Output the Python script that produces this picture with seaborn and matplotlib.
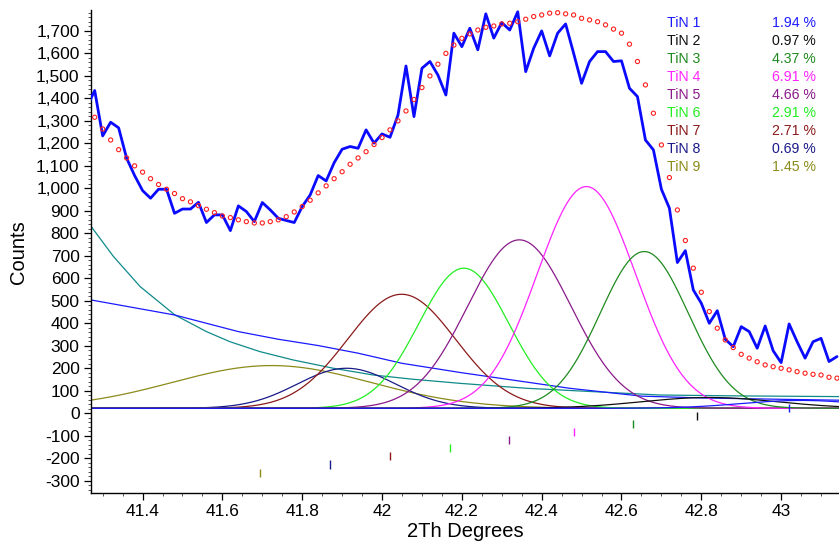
import numpy as np
import pandas as pd
import matplotlib
matplotlib.use("Agg")
import matplotlib.pyplot as plt
from matplotlib.ticker import MultipleLocator, FuncFormatter
import seaborn as sns

# ---- measured pattern: 2-theta grid (0.02 deg steps) ----
theta_start = 41.26
theta_step = 0.02
observed = [
    1360, 1435, 1233, 1294, 1269, 1134, 1057, 990, 956, 996,
    996, 889, 908, 908, 938, 848, 882, 882, 812, 922,
    897, 852, 937, 904, 867, 857, 848, 919, 971, 1057,
    1033, 1114, 1174, 1186, 1178, 1260, 1201, 1242, 1227, 1326,
    1544, 1319, 1534, 1564, 1504, 1415, 1690, 1630, 1712, 1616,
    1776, 1668, 1737, 1704, 1785, 1519, 1623, 1700, 1589, 1690,
    1731, 1601, 1467, 1564, 1608, 1608, 1564, 1567, 1445, 1408,
    1215, 1171, 996, 912, 670, 723, 548, 489, 400, 456,
    329, 296, 385, 363, 289, 388, 278, 225, 397, 318,
    245, 318, 333, 230, 252,
]
calculated = [
    1365, 1316, 1264, 1215, 1172, 1135, 1100, 1072, 1043, 1017,
    996, 977, 954, 940, 923, 907, 892, 877, 870, 860,
    852, 846, 846, 852, 860, 874, 895, 919, 947, 980,
    1011, 1043, 1074, 1107, 1135, 1163, 1195, 1226, 1260, 1300,
    1344, 1395, 1448, 1500, 1552, 1600, 1637, 1667, 1687, 1704,
    1716, 1722, 1731, 1734, 1741, 1752, 1764, 1771, 1779, 1781,
    1776, 1771, 1756, 1749, 1741, 1727, 1708, 1690, 1641, 1564,
    1460, 1334, 1193, 1048, 904, 768, 645, 538, 452, 378,
    326, 292, 262, 245, 229, 215, 207, 200, 193, 185,
    178, 173, 170, 160, 156,
]

# ---- fitted phases ----
phases = ["TiN 1", "TiN 2", "TiN 3", "TiN 4", "TiN 5",
          "TiN 6", "TiN 7", "TiN 8", "TiN 9"]
fractions = ["1.94 %", "0.97 %", "4.37 %", "6.91 %", "4.66 %",
             "2.91 %", "2.71 %", "0.69 %", "1.45 %"]
phase_colors = ["#1a1aff", "#101010", "#1f8a1f", "#ff22ff", "#8a1a8a",
                "#22ee22", "#8b1a1a", "#1a1a8a", "#8b8b1a"]
peak_center = [43.05, 42.82, 42.657, 42.512, 42.344, 42.205, 42.049, 41.911, 41.723]
peak_height = [35, 48, 697, 986, 749, 623, 507, 178, 190]
peak_fwhm = [0.35, 0.40, 0.26, 0.29, 0.305, 0.265, 0.318, 0.29, 0.585]
peak_base = 22

# reflection markers below the pattern
marker_pos = [43.02, 42.79, 42.63, 42.48, 42.317, 42.17, 42.02, 41.87, 41.694]
marker_level = [24, -11, -48, -84, -120, -156, -192, -228, -265]
marker_half = 18

# background contributions
bg_blue_x = [41.27, 41.48, 41.64, 41.74, 41.84, 41.94, 42.05, 42.20, 42.47, 42.65, 42.80, 43.00, 43.145]
bg_blue_y = [504, 437, 363, 329, 301, 267, 222, 180, 111, 76, 68, 62, 58]
bg_teal_x = [41.27, 41.327, 41.394, 41.481, 41.56, 41.619, 41.694, 41.777, 41.878,
             41.978, 42.078, 42.195, 42.362, 42.529, 42.696, 42.90, 43.145]
bg_teal_y = [833, 697, 563, 437, 363, 318, 274, 237, 200,
             170, 151, 133, 111, 96, 81, 77, 74]

# ---- figure ----
sns.set_theme(style="ticks")
plt.rcParams["font.family"] = ["Liberation Sans", "DejaVu Sans"]

W, H = 839, 546
fig = plt.figure(figsize=(W / 100, H / 100), dpi=100)
ax = fig.add_axes([90.7 / W, 1 - 493.3 / H, (W - 90.7) / W, (493.3 - 10) / H])

two_theta = np.round(theta_start + theta_step * np.arange(len(observed)), 2)

# profile curves of each phase
grid = np.linspace(41.27, 43.145, 700)
rows = []
for name, c, h, w in zip(phases, peak_center, peak_height, peak_fwhm):
    prof = peak_base + h * np.exp(-4 * np.log(2) * (grid - c) ** 2 / w ** 2)
    rows.append(pd.DataFrame({"x": grid, "y": prof, "phase": name}))
comp = pd.concat(rows, ignore_index=True)

sns.lineplot(x=bg_teal_x, y=bg_teal_y, color="#108a8a", lw=0.9, ax=ax, zorder=2)
sns.lineplot(x=bg_blue_x, y=bg_blue_y, color="#1a1aff", lw=0.9, ax=ax, zorder=2)
sns.lineplot(data=comp, x="x", y="y", hue="phase", hue_order=phases[::-1],
             palette=dict(zip(phases, phase_colors)), estimator=None,
             lw=0.9, legend=False, ax=ax, zorder=2)

ax.vlines(marker_pos,
          [m - marker_half for m in marker_level],
          [m + marker_half for m in marker_level],
          colors=phase_colors, lw=1.0, zorder=3)

sns.lineplot(x=two_theta, y=observed, color="#0a0aff", lw=2.0, ax=ax, zorder=4)
sns.scatterplot(x=two_theta, y=calculated, marker="o", s=9, color="none",
                edgecolor="#ff2020", linewidth=0.8, ax=ax, zorder=5)

ax.set_xlim(41.27, 43.145)
ax.set_ylim(-356, 1793)
ax.xaxis.set_major_locator(MultipleLocator(0.2))
ax.xaxis.set_minor_locator(MultipleLocator(0.05))
ax.yaxis.set_major_locator(MultipleLocator(100))
ax.yaxis.set_minor_locator(MultipleLocator(20))
ax.xaxis.set_major_formatter(FuncFormatter(lambda v, p: f"{v:g}"))
ax.yaxis.set_major_formatter(FuncFormatter(lambda v, p: f"{int(round(v)):,}"))

for s in ("top", "right"):
    ax.spines[s].set_visible(False)
for s in ("left", "bottom"):
    ax.spines[s].set_color("black")
    ax.spines[s].set_linewidth(1.0)
ax.tick_params(which="major", direction="out", length=5, width=0.9,
               color="black", labelsize=12.5, labelcolor="black", pad=3)
ax.tick_params(which="minor", direction="out", length=2.5, width=0.7, color="#555555")
ax.grid(False)

ax.set_xlabel("2Th Degrees", fontsize=14.5, color="black", labelpad=2)
ax.set_ylabel("Counts", fontsize=14.5, color="black", labelpad=6)

# phase list with weight fractions
for i, (name, frac, col) in enumerate(zip(phases, fractions, phase_colors)):
    yc = 1 - (22.7 + 18 * i) / H
    fig.text(666.7 / W, yc, name, color=col, fontsize=10.2, ha="left", va="center")
    fig.text(815.7 / W, yc, frac, color=col, fontsize=10.2, ha="right", va="center")

fig.savefig("out.png", dpi=100)
